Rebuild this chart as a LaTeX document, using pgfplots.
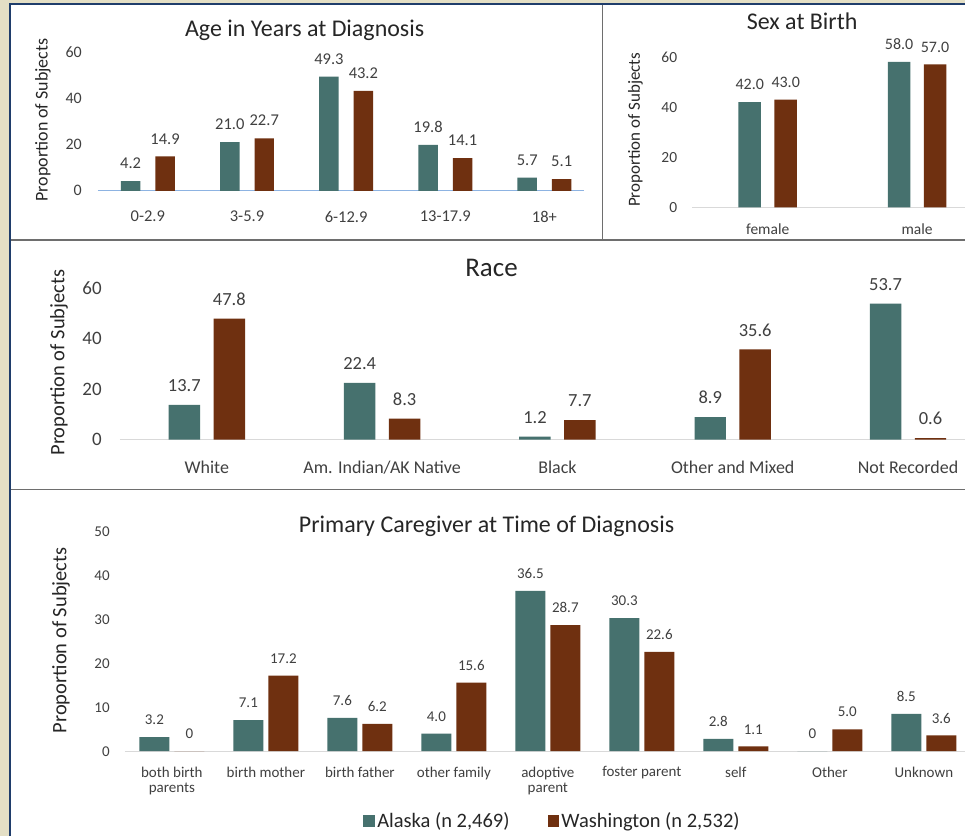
\documentclass[border=0pt]{standalone}
\usepackage{pgfplots}
\pgfplotsset{compat=1.18}
\usepackage{fontspec}
\setmainfont{Carlito}

\definecolor{ak}{HTML}{46716E}
\definecolor{wa}{HTML}{6F3010}
\definecolor{framec}{HTML}{6E6E6E}
\definecolor{beige}{HTML}{E4DFC5}
\definecolor{navy}{HTML}{1F3D6B}
\definecolor{txt}{HTML}{404040}
\definecolor{ttl}{HTML}{262626}
\definecolor{baseg}{HTML}{D9D9D9}
\definecolor{baseb}{HTML}{8DB3E2}

\newcommand\fs[1]{\fontsize{#1}{#1}\selectfont}

\pgfplotsset{
  panel/.style={
    scale only axis, ybar, ymin=0, clip=false,
    anchor=south west,
    axis x line*=bottom, axis y line*=left,
    y axis line style={draw=none},
    x axis line style={-, draw=baseg, line width=1pt},
    tick style={draw=none},
    /pgf/number format/assume math mode=true,
    ticklabel style={text=txt},
    yticklabel style={anchor=east, inner sep=0pt, xshift=-15pt},
    xticklabel style={anchor=north, inner sep=0pt, align=center},
    nodes near coords={\pgfmathfloatifflags{\pgfplotspointmeta}{0}{0}{\pgfmathprintnumber[fixed,fixed zerofill,precision=1]{\pgfplotspointmeta}}},
    every node near coord/.append style={text=txt, inner sep=0pt, anchor=south, yshift=12pt},
  },
  akbar/.style={fill=ak, draw=none},
  wabar/.style={fill=wa, draw=none},
}

\begin{document}
\begin{tikzpicture}
\begin{scope}[x=1pt,y=-1pt]
  \fill[beige] (0,0) rectangle (966,837);
  \fill[white] (11,5) rectangle (966,837);
  \draw[navy, line width=2pt] (10,837) -- (10,4) -- (966,4);
  \draw[framec, line width=1.5pt] (11,240) -- (966,240);
  \draw[framec, line width=1.5pt] (11,490) -- (966,490);
  \draw[framec, line width=1.5pt] (603,5) -- (603,240);
  % titles
  \node[anchor=base, font=\fs{24}, text=ttl] at (305,37) {Age in Years at Diagnosis};
  \node[anchor=base, font=\fs{24}, text=ttl] at (803,30) {Sex at Birth};
  \node[anchor=base, font=\fs{27}, text=ttl] at (492,277) {Race};
  \node[anchor=base, font=\fs{24}, text=ttl] at (487,533) {Primary Caregiver at Time of Diagnosis};
  % y labels
  \node[rotate=90, font=\fs{18}, text=ttl] at (43,120) {Proportion of Subjects};
  \node[rotate=90, font=\fs{17}, text=ttl] at (636,130) {Proportion of Subjects};
  \node[rotate=90, font=\fs{20.5}, text=ttl] at (59,363) {Proportion of Subjects};
  \node[rotate=90, font=\fs{20.5}, text=ttl] at (61,641) {Proportion of Subjects};
\end{scope}

% Age in years at diagnosis
\begin{axis}[panel, at={(98pt,-191pt)}, width=487pt, height=139pt,
    xmin=-0.504, xmax=4.403, ymax=60, ytick={0,20,40,60},
    xtick={0,...,4}, xticklabels={0-2.9,3-5.9,6-12.9,13-17.9,18+},
    x axis line style={draw=baseb},
    bar width=19.5pt, ybar=15pt,
    yticklabel style={font=\fs{16}, xshift=-1pt},
    xticklabel style={font=\fs{16.5}, yshift=-16pt},
    every node near coord/.append style={font=\fs{16.5}}]
\addplot[akbar] coordinates {(0,4.2)(1,21.0)(2,49.3)(3,19.8)(4,5.7)};
\addplot[wabar] coordinates {(0,14.9)(1,22.7)(2,43.2)(3,14.1)(4,5.1)};
\end{axis}

% Sex at birth
\begin{axis}[panel, at={(693pt,-207.5pt)}, width=273pt, height=150.5pt,
    xmin=-0.505, xmax=1.321, ymax=60, ytick={0,20,40,60},
    xtick={0,1}, xticklabels={female,male},
    bar width=22.5pt, ybar=13.5pt,
    yticklabel style={font=\fs{15.5}},
    xticklabel style={font=\fs{15.5}, yshift=-12pt},
    every node near coord/.append style={font=\fs{16}}]
\addplot[akbar] coordinates {(0,42.0)(1,58.0)};
\addplot[wabar] coordinates {(0,43.0)(1,57.0)};
\end{axis}

% Race
\begin{axis}[panel, at={(120pt,-440pt)}, width=846pt, height=152pt,
    xmin=-0.496, xmax=4.325, ymax=60, ytick={0,20,40,60},
    xtick={0,...,4},
    xticklabels={White,Am. Indian/AK Native,Black,Other and Mixed,Not Recorded},
    bar width=31.5pt, ybar=13.5pt,
    yticklabel style={font=\fs{19}, xshift=-3pt},
    xticklabel style={font=\fs{18}, yshift=-17pt},
    every node near coord/.append style={font=\fs{18.5}, yshift=1pt}]
\addplot[akbar] coordinates {(0,13.7)(1,22.4)(2,1.2)(3,8.9)(4,53.7)};
\addplot[wabar] coordinates {(0,47.8)(1,8.3)(2,7.7)(3,35.6)(4,0.6)};
\end{axis}

% Primary caregiver
\begin{axis}[panel, at={(125pt,-752pt)}, width=841pt, height=220pt,
    xmin=-0.5, xmax=8.438, ymax=50, ytick={0,10,...,50},
    xtick={0,...,8},
    xticklabels={{both birth\\parents},birth mother,birth father,other family,{adoptive\\parent},foster parent,self,Other,Unknown},
    bar width=30pt, ybar=5pt,
    yticklabel style={font=\fs{15}},
    xticklabel style={font=\fs{15}, yshift=-11pt},
    every node near coord/.append style={font=\fs{15}},
    legend style={at={(axis description cs:0.509,-0.318)}, anchor=center,
      draw=none, fill=none, legend columns=2, font=\fs{20.5}, text=ttl,
      /tikz/every even column/.append style={column sep=36pt}},
    legend image code/.code={\fill[#1] (-3pt,-6pt) rectangle (9pt,6pt);}]
\addplot[akbar] coordinates {(0,3.2)(1,7.1)(2,7.6)(3,4.0)(4,36.5)(5,30.3)(6,2.8)(7,0)(8,8.5)};
\addplot[wabar] coordinates {(0,0)(1,17.2)(2,6.2)(3,15.6)(4,28.7)(5,22.6)(6,1.1)(7,5.0)(8,3.6)};
\legend{{Alaska (n 2,469)},{Washington (n 2,532)}}
\end{axis}
\end{tikzpicture}
\end{document}
